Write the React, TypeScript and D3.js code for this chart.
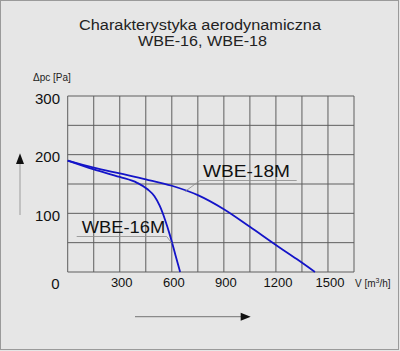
import React from "react";
import * as d3 from "d3";

// flow V [m3/h] vs pressure dpc [Pa]
const flowWBE16 = [0, 150, 300, 400, 460, 500, 530, 560, 590, 620, 648];
const pressWBE16 = [190, 175, 162, 152, 141, 129, 113, 90, 62, 30, 0];
const flowWBE18 = [0, 150, 300, 450, 600, 750, 900, 1050, 1200, 1320, 1425];
const pressWBE18 = [190, 178, 168, 158, 147, 131, 107, 77, 46, 22, 0];
const xTicks = [300, 600, 900, 1200, 1500];
const yTicks = [100, 200, 300];

const W = 400;
const H = 351;
const font = "'Liberation Sans', Arial, sans-serif";

const App = () => {
  const x = d3.scaleLinear().domain([0, 1650]).range([67.7, 354]);
  const y = d3.scaleLinear().domain([0, 300]).range([272, 96]);

  const line = d3
    .line<[number, number]>()
    .x(d => x(d[0]))
    .y(d => y(d[1]))
    .curve(d3.curveMonotoneX);

  const pts16 = flowWBE16.map((v, i) => [v, pressWBE16[i]] as [number, number]);
  const pts18 = flowWBE18.map((v, i) => [v, pressWBE18[i]] as [number, number]);

  return (
    <div style={{ position: "absolute", left: 0, top: 0 }}>
      <svg width={W} height={H} style={{ display: "block" }}>
        <rect x={0} y={0} width={W} height={H} fill="#e6e6e6" />
        <rect x={0.5} y={0.5} width={398} height={349} fill="none" stroke="#9a9a9a" />

        {/* title */}
        <text x={79} y={29.5} textLength={242} lengthAdjust="spacingAndGlyphs" fontFamily={font} fontSize={14} fill="#222">
          Charakterystyka aerodynamiczna
        </text>
        <text x={138} y={46} textLength={129} lengthAdjust="spacingAndGlyphs" fontFamily={font} fontSize={14} fill="#222">
          WBE-16, WBE-18
        </text>

        {/* grid */}
        {d3.range(0, 1651, 150).map(v => (
          <line key={"v" + v} x1={x(v)} x2={x(v)} y1={y(0)} y2={y(300)} stroke="#5e5e5e" strokeWidth={1} />
        ))}
        {d3.range(0, 301, 50).map(v => (
          <line key={"h" + v} x1={x(0)} x2={x(1650)} y1={y(v)} y2={y(v)} stroke="#5e5e5e" strokeWidth={1} />
        ))}

        {/* axis labels */}
        <text x={33} y={81} fontFamily={font} fontSize={10} fill="#222">
          Δpc [Pa]
        </text>
        {yTicks.map(v => (
          <text key={"yt" + v} x={60} y={y(v) + 7.5} textAnchor="end" fontFamily={font} fontSize={15} fill="#111">
            {v}
          </text>
        ))}
        <text x={55.5} y={289} textAnchor="middle" fontFamily={font} fontSize={15} fill="#111">
          0
        </text>
        {xTicks.map(v => (
          <text key={"xt" + v} x={x(v) + 2} y={287} textAnchor="middle" fontFamily={font} fontSize={13} fill="#111">
            {v}
          </text>
        ))}
        <text x={355} y={287} fontFamily={font} fontSize={10} fill="#222">
          V [m<tspan dy={-4} fontSize={7}>3</tspan>
          <tspan dy={4}>/h]</tspan>
        </text>

        {/* curves */}
        <path d={line(pts18) || ""} fill="none" stroke="#1414c8" strokeWidth={1.8} />
        <path d={line(pts16) || ""} fill="none" stroke="#1414c8" strokeWidth={1.8} />

        {/* curve labels */}
        <polyline points="296.7,180.5 200,180.5 185,191.5" fill="none" stroke="#8a8a8a" strokeWidth={0.8} />
        <text x={203} y={176.5} textLength={87} lengthAdjust="spacingAndGlyphs" fontFamily={font} fontSize={16} fill="#111">
          WBE-18M
        </text>
        <polyline points="76.7,236.5 166.7,236.5 172,243.5" fill="none" stroke="#8a8a8a" strokeWidth={0.8} />
        <text x={81.7} y={233.3} textLength={83.5} lengthAdjust="spacingAndGlyphs" fontFamily={font} fontSize={16} fill="#111">
          WBE-16M
        </text>

        {/* arrows */}
        <line x1={20} x2={20} y1={215} y2={162} stroke="#a8a8a8" strokeWidth={1.2} />
        <path d="M20,153.3 L16,164 L24,164 Z" fill="#111" />
        <line x1={135} x2={242} y1={316.7} y2={316.7} stroke="#8a8a8a" strokeWidth={1.2} />
        <path d="M250.7,316.7 L240.7,312.7 L240.7,320.7 Z" fill="#111" />
      </svg>
    </div>
  );
};

export default App;
